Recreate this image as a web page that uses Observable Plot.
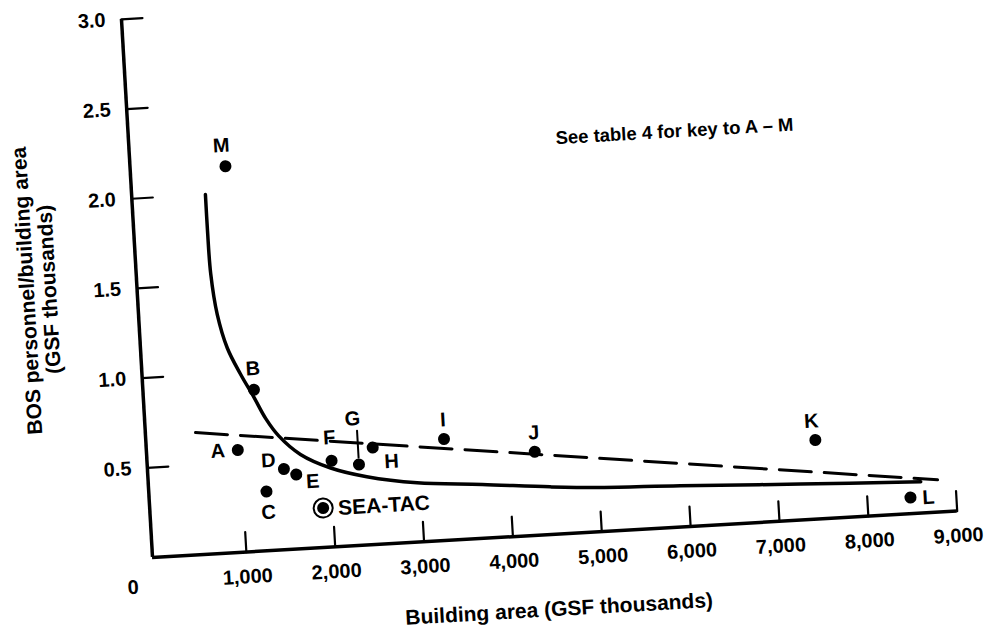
<!DOCTYPE html>
<html><head><meta charset="utf-8">
<script src="https://cdn.jsdelivr.net/npm/d3@7"></script>
<script src="https://cdn.jsdelivr.net/npm/@observablehq/plot@0.6"></script>
<style>
html,body{margin:0;padding:0;background:#fff;overflow:hidden;width:988px;height:635px;}
#chart{position:relative;width:988px;height:635px;}
#chart svg{position:absolute;left:0;top:0;overflow:visible;}
</style></head><body><div id="chart"></div>
<script>
// ---- data ----
const labels = ["A","B","C","D","E","F","G","H","I","J","K","L","M","SEA-TAC"];
const buildingArea = [970, 1190, 1265, 1475, 1610, 2015, 2320, 2485, 3290, 4300, 7455, 8485, 1015, 1890];
const bosRatio = [0.57, 0.90, 0.33, 0.45, 0.415, 0.48, 0.45, 0.54, 0.565, 0.465, 0.44, 0.09, 2.15, 0.22];

// solid fitted curve
const curveArea  = [772, 772, 780, 827, 918, 1050, 1183, 1304, 1438, 1670, 2000, 2400, 2960, 3690, 4450, 5015, 5910, 7260, 8610];
const curveRatio = [2.00, 1.80, 1.56, 1.33, 1.14, 0.99, 0.86, 0.735, 0.635, 0.525, 0.44, 0.38, 0.33, 0.30, 0.265, 0.245, 0.23, 0.20, 0.175];

// dashed trend line
const trendArea  = [507, 8800];
const trendRatio = [0.68, 0.18];

const xTicks = [1000, 2000, 3000, 4000, 5000, 6000, 7000, 8000, 9000];
const yTicks = [0.5, 1.0, 1.5, 2.0, 2.5, 3.0];
const xDomain = [-56, 9000];
const yDomain = [0, 3];

const xTitle = "Building area (GSF thousands)";
const yTitle = "BOS personnel/building area\n(GSF thousands)";
const note = {text: "See table 4 for key to A \u2013 M", x: 4736, y: 2.2};

// ---- tables ----
const points = labels.map((label, i) => ({label, x: buildingArea[i], y: bosRatio[i]}));
const curve = curveArea.map((x, i) => ({x, y: curveRatio[i]}));
const trend = trendArea.map((x, i) => ({x, y: trendRatio[i]}));

// ---- style ----
const W = 988, H = 680, mL = 152, mR = 30, mT = 18, mB = 123;
const font = "'Liberation Sans', Arial, Helvetica, sans-serif";
const labelOffset = {
  A: [-20, 0], B: [0, -21], C: [1, 21], D: [-15, -9], E: [16, 8], F: [-1, -23],
  G: [-4, -46], H: [18, 15], I: [0, -19], J: [0, -19], K: [-3, -19], L: [18, 1], M: [-3, -21]
};
const tickShape = {draw(ctx, l) { ctx.moveTo(0, 0); ctx.lineTo(0, -l); }};

const letterMarks = Object.keys(labelOffset).map(l =>
  Plot.text(points.filter(p => p.label === l), {
    x: "x", y: "y", text: "label", dx: labelOffset[l][0], dy: labelOffset[l][1],
    fontSize: 20, fontWeight: "bold", fill: "black", lineAnchor: "middle"
  })
);

const chart = Plot.plot({
  width: W, height: H,
  marginLeft: mL, marginRight: mR, marginTop: mT, marginBottom: mB,
  style: {fontFamily: font, background: "white", overflow: "visible", color: "black"},
  x: {domain: xDomain, axis: null},
  y: {domain: yDomain, axis: null},
  marks: [
    // axis lines
    Plot.ruleX([xDomain[0]], {y1: yDomain[0], y2: yDomain[1], strokeWidth: 3.5, stroke: "black"}),
    Plot.ruleY([yDomain[0]], {x1: xDomain[0], x2: xDomain[1], strokeWidth: 3.5, stroke: "black"}),
    // inward ticks
    Plot.vector(xTicks, {x: d => d, y: yDomain[0], length: 20, anchor: "start", shape: tickShape, strokeWidth: 2.2, stroke: "black"}),
    Plot.vector(yTicks, {x: xDomain[0], y: d => d, length: 21, rotate: 90, anchor: "start", shape: tickShape, strokeWidth: 2.2, stroke: "black"}),
    // tick labels
    Plot.axisX({ticks: xTicks, tickSize: 0, tickPadding: 17, tickFormat: d3.format(","), fontSize: 20, fontWeight: "bold", label: null}),
    Plot.axisY({ticks: yTicks, tickSize: 0, tickPadding: 16, tickFormat: d3.format(".1f"), fontSize: 20, fontWeight: "bold", label: null}),
    Plot.text(["0"], {x: 0, y: 0, text: d => d, dx: -26, dy: 29, fontSize: 20, fontWeight: "bold"}),
    // axis titles
    Plot.text([xTitle], {frameAnchor: "bottom", text: d => d, dy: 75, lineAnchor: "middle", fontSize: 21, fontWeight: "bold"}),
    Plot.text([yTitle], {frameAnchor: "left", text: d => d, dx: -99, dy: -4, rotate: -90, textAnchor: "middle", lineAnchor: "middle", lineHeight: 1.05, fontSize: 21, fontWeight: "bold"}),
    // note
    Plot.text([note], {x: "x", y: "y", text: "text", textAnchor: "start", lineAnchor: "middle", fontSize: 18.5, fontWeight: "bold"}),
    // lines
    Plot.line(trend, {x: "x", y: "y", stroke: "black", strokeWidth: 3, strokeDasharray: "32,13"}),
    Plot.line(curve, {x: "x", y: "y", stroke: "black", strokeWidth: 3.5, curve: "catmull-rom"}),
    // G leader
    Plot.vector(points.filter(p => p.label === "G"), {x: "x", y: "y", length: 27, dy: -7, anchor: "start", shape: tickShape, strokeWidth: 2, stroke: "black"}),
    // dots
    Plot.dot(points, {x: "x", y: "y", r: 6, fill: "black", stroke: "none"}),
    Plot.dot(points.filter(p => p.label === "SEA-TAC"), {x: "x", y: "y", r: 9.5, fill: "none", stroke: "black", strokeWidth: 2}),
    ...letterMarks,
    Plot.text(points.filter(p => p.label === "SEA-TAC"), {x: "x", y: "y", text: "label", dx: 15, dy: 1, textAnchor: "start", lineAnchor: "middle", fontSize: 21, fontWeight: "bold"})
  ]
});

chart.style.transformOrigin = `${mL}px ${H - mB}px`;
chart.style.transform = "rotate(-3.3deg)";
document.getElementById("chart").appendChild(chart);
</script>
</body></html>
